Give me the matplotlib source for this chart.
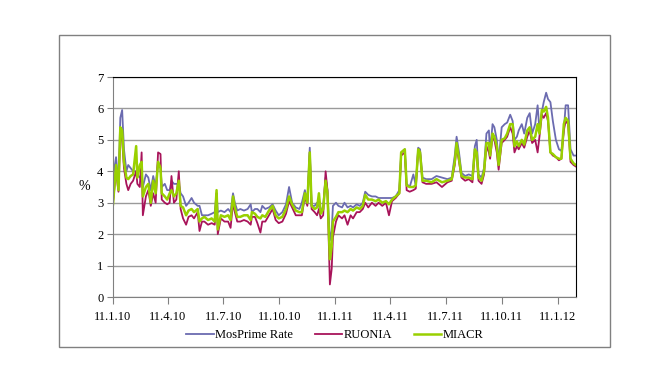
import datetime as dt
import matplotlib
matplotlib.use("Agg")
import matplotlib.pyplot as plt
from matplotlib.patches import Rectangle

start = dt.date(2010, 1, 11)

# days since 11.1.10
days = [0, 5, 9, 12, 15, 18, 22, 25, 29, 33, 38, 40, 44, 47, 49, 54, 58, 62, 66, 70,
        74, 78, 80, 85, 89, 93, 96, 100, 104, 108, 111, 115, 120, 124, 129, 133, 139, 142, 146, 150,
        156, 162, 167, 170, 172, 177, 183, 189, 193, 197, 200, 204, 209, 215, 221, 226, 228, 233, 237, 242,
        245, 250, 256, 262, 267, 272, 278, 284, 289, 294, 300, 306, 310, 315, 319, 323, 326, 331, 335, 338,
        341, 345, 349, 352, 356, 359, 361, 366, 370, 376, 380, 385, 390, 394, 400, 405, 410, 414, 419, 425,
        431, 436, 442, 448, 453, 458, 464, 470, 473, 479, 482, 487, 493, 497, 501, 504, 508, 514, 523, 531,
        540, 549, 556, 561, 564, 568, 572, 578, 584, 590, 594, 597, 600, 605, 609, 613, 617, 619, 623, 626,
        630, 633, 638, 643, 647, 652, 656, 659, 663, 666, 671, 675, 680, 684, 688, 693, 697, 700, 704, 707,
        711, 714, 718, 722, 727, 732, 736, 740, 743, 747, 751, 756, 760]

mosprime = [3.8, 4.45, 3.6, 5.7, 5.95, 4.7, 4.0, 4.2, 4.1, 4.0, 4.0, 3.9, 3.8, 3.8, 3.5, 3.9, 3.8, 3.4, 3.85, 3.5,
            4.3, 4.1, 3.5, 3.6, 3.4, 3.4, 3.7, 3.6, 3.6, 3.6, 3.3, 3.2, 2.9, 3.0, 3.15, 3.0, 2.9, 2.9, 2.6, 2.6,
            2.6, 2.65, 2.7, 3.3, 2.7, 2.75, 2.7, 2.8, 2.7, 3.3, 3.0, 2.75, 2.8, 2.75, 2.8, 2.95, 2.7, 2.8, 2.8, 2.7,
            2.9, 2.8, 2.85, 2.95, 2.75, 2.6, 2.7, 2.95, 3.5, 3.0, 2.85, 2.8, 3.0, 3.4, 3.0, 4.75, 2.9, 2.9, 3.0, 2.9,
            2.7, 2.9, 3.8, 3.4, 1.8, 2.1, 2.9, 3.0, 2.9, 2.85, 3.0, 2.85, 2.9, 2.85, 2.95, 2.9, 3.0, 3.35, 3.25, 3.2,
            3.2, 3.15, 3.15, 3.15, 3.15, 3.15, 3.2, 3.4, 4.6, 4.7, 3.6, 3.5, 3.9, 3.55, 4.75, 4.7, 3.8, 3.75, 3.75, 3.85,
            3.8, 3.75, 3.8, 4.5, 5.1, 4.6, 3.95, 3.85, 3.9, 3.85, 4.8, 5.0, 3.9, 3.8, 4.1, 5.2, 5.3, 4.6, 5.5, 5.4,
            5.0, 4.3, 5.4, 5.5, 5.55, 5.8, 5.6, 5.0, 5.1, 5.3, 5.5, 5.2, 5.7, 5.85, 5.2, 5.5, 6.1, 5.3, 5.9, 6.2,
            6.5, 6.3, 6.2, 5.6, 5.0, 4.7, 4.65, 5.3, 6.1, 6.1, 4.7, 4.5, 4.5]

ruonia = [3.0, 4.0, 3.35, 5.2, 5.0, 4.1, 3.6, 3.4, 3.6, 3.7, 4.0, 3.6, 3.5, 4.6, 2.6, 3.2, 3.4, 2.9, 3.3, 3.0,
          4.6, 4.55, 3.1, 3.0, 2.95, 3.0, 3.85, 3.0, 3.1, 4.0, 2.8, 2.5, 2.3, 2.55, 2.6, 2.5, 2.7, 2.1, 2.4, 2.4,
          2.3, 2.35, 2.3, 3.3, 2.0, 2.5, 2.4, 2.4, 2.2, 3.0, 2.7, 2.4, 2.4, 2.45, 2.4, 2.3, 2.55, 2.55, 2.35, 2.05,
          2.4, 2.4, 2.6, 2.8, 2.45, 2.35, 2.4, 2.65, 3.05, 2.85, 2.6, 2.6, 2.6, 3.2, 2.9, 4.6, 2.8, 2.7, 2.6, 2.8,
          2.5, 2.6, 4.0, 3.4, 0.4, 0.9, 1.9, 2.4, 2.6, 2.5, 2.6, 2.3, 2.6, 2.5, 2.7, 2.7, 2.8, 3.0, 2.85, 3.0,
          2.9, 3.0, 2.9, 3.0, 2.6, 3.05, 3.15, 3.3, 4.5, 4.6, 3.4, 3.35, 3.4, 3.45, 4.7, 4.6, 3.65, 3.6, 3.6, 3.65,
          3.5, 3.65, 3.7, 4.2, 4.8, 4.3, 3.8, 3.7, 3.75, 3.65, 4.6, 4.5, 3.7, 3.6, 3.9, 4.8, 4.6, 4.4, 5.1, 5.0,
          4.6, 4.05, 4.9, 5.0, 5.1, 5.4, 5.2, 4.6, 4.8, 4.7, 4.9, 4.75, 5.1, 5.3, 4.9, 5.0, 4.6, 5.1, 5.8, 5.7,
          5.85, 5.6, 4.6, 4.5, 4.45, 4.35, 4.4, 5.3, 5.6, 5.5, 4.3, 4.2, 4.15]

miacr = [2.95, 4.2, 3.4, 5.4, 5.3, 4.3, 3.8, 3.75, 3.85, 3.9, 4.8, 3.8, 4.2, 4.3, 3.2, 3.5, 3.6, 3.0, 3.7, 3.3,
         4.3, 4.1, 3.3, 3.2, 3.1, 3.3, 3.4, 3.2, 3.3, 3.7, 2.9, 2.85, 2.6, 2.75, 2.8, 2.7, 2.8, 2.4, 2.5, 2.55,
         2.45, 2.5, 2.4, 3.4, 2.15, 2.6, 2.55, 2.6, 2.45, 3.2, 2.85, 2.55, 2.55, 2.6, 2.6, 2.45, 2.7, 2.65, 2.55, 2.5,
         2.6, 2.55, 2.75, 2.9, 2.6, 2.5, 2.55, 2.8, 3.2, 2.95, 2.75, 2.7, 2.7, 3.3, 3.0, 4.6, 2.9, 2.8, 2.85, 3.3,
         2.65, 2.8, 3.7, 3.3, 1.2, 1.6, 2.4, 2.55, 2.7, 2.7, 2.75, 2.7, 2.8, 2.75, 2.85, 2.8, 2.9, 3.25, 3.1, 3.1,
         3.05, 3.1, 3.0, 3.05, 2.95, 3.1, 3.2, 3.3, 4.6, 4.7, 3.55, 3.5, 3.5, 3.55, 4.7, 4.6, 3.7, 3.7, 3.65, 3.75,
         3.65, 3.7, 3.75, 4.3, 4.9, 4.4, 3.85, 3.8, 3.8, 3.75, 4.7, 4.6, 3.8, 3.7, 4.0, 4.9, 4.9, 4.5, 5.2, 5.1,
         4.8, 4.2, 5.0, 5.05, 5.2, 5.5, 5.5, 4.8, 4.95, 4.8, 5.0, 4.85, 5.3, 5.4, 5.0, 5.1, 5.5, 5.2, 5.95, 5.9,
         6.05, 5.7, 4.6, 4.55, 4.45, 4.4, 4.4, 5.5, 5.7, 5.6, 4.4, 4.25, 4.2]

dates = [start + dt.timedelta(days=d) for d in days]
tick_dates = [dt.date(2010, 1, 11), dt.date(2010, 4, 11), dt.date(2010, 7, 11), dt.date(2010, 10, 11),
              dt.date(2011, 1, 11), dt.date(2011, 4, 11), dt.date(2011, 7, 11), dt.date(2011, 10, 11),
              dt.date(2012, 1, 11)]
tick_labels = ["11.1.10", "11.4.10", "11.7.10", "11.10.10", "11.1.11",
               "11.4.11", "11.7.11", "11.10.11", "11.1.12"]

plt.rcParams['font.family'] = ['Liberation Serif', 'DejaVu Serif']

fig = plt.figure(figsize=(6.7, 3.86), dpi=100)
fig.patches.append(Rectangle((59 / 670, 1 - 347 / 386), 551 / 670, 312 / 386,
                             transform=fig.transFigure, fill=False,
                             edgecolor='#808080', linewidth=1.0))

ax = fig.add_axes([113 / 670, 1 - 297 / 386, 463 / 670, 220 / 386])
ax.plot(dates, mosprime, color='#6b6bb0', linewidth=1.3, label='MosPrime Rate')
ax.plot(dates, ruonia, color='#a8145a', linewidth=1.3, label='RUONIA')
ax.plot(dates, miacr, color='#99d000', linewidth=1.8, label='MIACR')

ax.set_ylim(0, 7)
ax.set_yticks(range(8))
ax.set_xlim(start, start + dt.timedelta(days=760))
ax.set_xticks(tick_dates)
ax.set_xticklabels(tick_labels)
ax.grid(axis='y', color='#9a9a9a', linewidth=1.0)
ax.set_axisbelow(True)
ax.tick_params(axis='y', labelsize=9, length=4, color='#808080', pad=3)
ax.tick_params(axis='x', labelsize=9, length=5, color='#808080', pad=5)
ax.spines['top'].set_color('black')
ax.spines['right'].set_color('black')
ax.spines['left'].set_color('#808080')
ax.spines['bottom'].set_color('#808080')
ax.set_ylabel('%', rotation=0, fontsize=10, va='center', ha='center')
ax.yaxis.set_label_coords(-0.062, 0.5)

ax.legend(loc='upper center', bbox_to_anchor=(0.479, -0.145), ncol=3, frameon=False,
          fontsize=9, handlelength=2.2, columnspacing=1.75, handletextpad=0.1,
          borderaxespad=0, borderpad=0)

fig.savefig('out.png', dpi=100)
